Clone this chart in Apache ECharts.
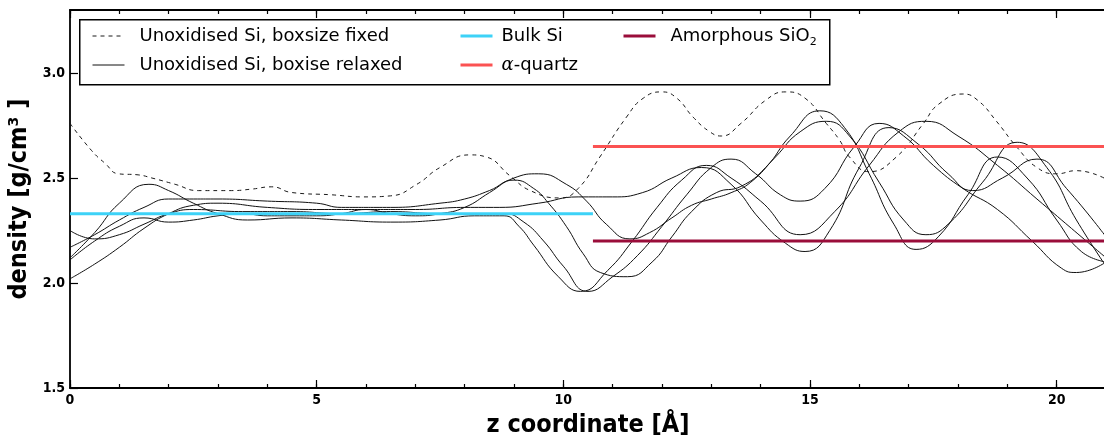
<!DOCTYPE html>
<html>
<head>
<meta charset="utf-8">
<script src="https://cdn.jsdelivr.net/npm/echarts@6/dist/echarts.min.js"></script>
<style>
html, body { margin: 0; padding: 0; background: #fff; }
#chart { width: 1104px; height: 436px; }
</style>
</head>
<body>
<div id="chart"></div>
<script>
// density profiles, z in Angstrom, rho in g/cm^3

// boxsize fixed (dashed)
var fixedZ = [0, 0.44, 0.71, 0.98, 1.38, 1.66, 2.13, 2.6, 3.27, 3.68, 4.09, 4.49, 5.3, 5.95, 6.5, 7.03, 7.5, 8.1, 8.44, 8.92, 9.33, 9.93, 10.3, 10.74, 11.28, 11.62, 12.0, 12.3, 12.63, 12.97, 13.2, 13.6, 14.1, 14.5, 14.9, 15.33, 15.6, 15.8, 16.2, 16.75, 17.3, 17.6, 18.1, 18.4, 18.78, 19.2, 19.6, 20.0, 20.4, 21];
var fixedRho = [2.76, 2.63, 2.57, 2.52, 2.515, 2.50, 2.47, 2.44, 2.44, 2.447, 2.458, 2.431, 2.42, 2.41, 2.415, 2.47, 2.55, 2.61, 2.60, 2.51, 2.44, 2.405, 2.45, 2.60, 2.79, 2.88, 2.91, 2.88, 2.79, 2.72, 2.70, 2.76, 2.87, 2.91, 2.88, 2.76, 2.68, 2.60, 2.53, 2.60, 2.76, 2.85, 2.90, 2.87, 2.77, 2.645, 2.55, 2.52, 2.535, 2.495];

// boxsize relaxed, five runs
var run1Z = [0, 0.5, 1, 1.5, 2, 2.5, 3, 4, 5, 6, 7, 8, 8.7, 9.5, 10.3, 11, 11.6, 12.2, 12.8, 13.4, 14.0, 14.5, 14.9, 15.4, 16.0, 16.6, 17.2, 17.8, 18.3, 18.9, 19.6, 20.2, 21];
var run1Rho = [2.02, 2.09, 2.17, 2.26, 2.33, 2.37, 2.38, 2.36, 2.35, 2.35, 2.35, 2.36, 2.36, 2.38, 2.41, 2.41, 2.43, 2.50, 2.55, 2.47, 2.30, 2.19, 2.15, 2.25, 2.55, 2.74, 2.66, 2.52, 2.44, 2.50, 2.59, 2.45, 2.22];

var run2Z = [0, 0.5, 1, 1.6, 2, 2.5, 3, 3.6, 4.5, 5.5, 6.5, 7.5, 8.2, 8.8, 9.1, 9.4, 9.9, 10.35, 10.9, 11.4, 11.9, 12.4, 12.9, 13.4, 14.0, 14.8, 15.5, 16.2, 16.8, 17.35, 18.0, 18.8, 19.6, 20.3, 21];
var run2Rho = [2.12, 2.24, 2.38, 2.47, 2.44, 2.38, 2.33, 2.30, 2.31, 2.30, 2.29, 2.30, 2.32, 2.32, 2.27, 2.18, 2.03, 1.96, 2.06, 2.20, 2.36, 2.49, 2.56, 2.50, 2.39, 2.23, 2.34, 2.56, 2.72, 2.77, 2.70, 2.56, 2.40, 2.26, 2.12];

var run3Z = [0, 0.5, 1, 1.5, 2, 2.5, 3.5, 4.5, 5.5, 6.5, 7.5, 8.2, 8.8, 9.2, 9.6, 10.0, 10.5, 11.0, 11.5, 12.0, 12.5, 13.0, 13.4, 13.9, 14.4, 14.8, 15.3, 15.9, 16.4, 16.9, 17.5, 18.1, 18.8, 19.5, 20.1, 20.4, 21];
var run3Rho = [2.25, 2.21, 2.23, 2.28, 2.33, 2.35, 2.34, 2.34, 2.33, 2.34, 2.33, 2.33, 2.33, 2.29, 2.20, 2.08, 1.96, 2.03, 2.13, 2.27, 2.42, 2.55, 2.59, 2.52, 2.42, 2.39, 2.45, 2.65, 2.76, 2.70, 2.56, 2.45, 2.35, 2.20, 2.07, 2.05, 2.10];

var run4Z = [0, 0.5, 1, 1.5, 2, 2.5, 3, 4, 5, 5.5, 6.5, 7.5, 8, 8.5, 9.0, 9.4, 9.7, 10.06, 10.4, 10.75, 11.3, 11.8, 12.2, 12.6, 13.1, 13.6, 14.1, 14.6, 15.2, 15.7, 16.2, 16.7, 17.15, 17.6, 18.2, 18.8, 19.4, 20.0, 20.5, 21];
var run4Rho = [2.17, 2.23, 2.30, 2.36, 2.40, 2.40, 2.40, 2.39, 2.38, 2.36, 2.36, 2.38, 2.40, 2.44, 2.49, 2.45, 2.38, 2.27, 2.14, 2.05, 2.03, 2.10, 2.22, 2.34, 2.43, 2.46, 2.55, 2.70, 2.82, 2.74, 2.52, 2.28, 2.16, 2.22, 2.42, 2.60, 2.50, 2.30, 2.15, 2.10];

var run5Z = [0, 0.5, 1, 1.5, 2, 2.5, 3, 3.5, 4, 4.5, 5, 5.5, 6, 6.5, 7, 7.5, 8, 8.5, 9.0, 9.5, 10.06, 10.47, 10.87, 11.35, 11.75, 12.2, 12.6, 13.0, 13.4, 13.8, 14.3, 14.8, 15.33, 15.8, 16.4, 16.9, 17.35, 17.8, 18.5, 19.2, 19.8, 20.4, 21];
var run5Rho = [2.11, 2.20, 2.27, 2.31, 2.29, 2.30, 2.32, 2.33, 2.32, 2.32, 2.32, 2.33, 2.35, 2.33, 2.32, 2.33, 2.36, 2.43, 2.50, 2.52, 2.47, 2.39, 2.28, 2.21, 2.24, 2.31, 2.37, 2.40, 2.43, 2.48, 2.60, 2.72, 2.77, 2.70, 2.48, 2.30, 2.23, 2.28, 2.48, 2.67, 2.55, 2.30, 2.08];

// reference densities
var bulkSiRho = 2.33;
var quartzRho = 2.65;
var amorphRho = 2.20;
var bulkSiRange = [0, 10.6];
var oxideRange = [10.6, 21];

var xTicks = [0, 21, 5];      // min, max, step
var yTicks = [1.5, 3.3, 0.5];

var RELAXED = 'Unoxidised Si, boxise relaxed';
var FIXED = 'Unoxidised Si, boxsize fixed';
var FONT = '"DejaVu Sans Condensed", "DejaVu Sans", sans-serif';

function pairs(z, rho) {
  return z.map(function (v, i) { return [v, rho[i]]; });
}
function flat(range, rho) {
  return range.map(function (v) { return [v, rho]; });
}

var relaxedRuns = [[run1Z, run1Rho], [run2Z, run2Rho], [run3Z, run3Rho], [run4Z, run4Rho], [run5Z, run5Rho]];

var series = [{
  name: FIXED,
  type: 'line',
  smooth: 0.5,
  symbol: 'none',
  lineStyle: { color: '#1a1a1a', width: 1, type: [4, 4] },
  itemStyle: { color: '#1a1a1a' },
  data: pairs(fixedZ, fixedRho)
}];
relaxedRuns.forEach(function (r) {
  series.push({
    name: RELAXED,
    type: 'line',
    smooth: 0.5,
    symbol: 'none',
    lineStyle: { color: '#111', width: 1 },
    itemStyle: { color: '#111' },
    data: pairs(r[0], r[1])
  });
});
series.push({
  name: 'Bulk Si', type: 'line', symbol: 'none', z: 3,
  lineStyle: { color: '#3dd2f7', width: 3 }, itemStyle: { color: '#3dd2f7' },
  data: flat(bulkSiRange, bulkSiRho)
});
series.push({
  name: 'α-quartz', type: 'line', symbol: 'none', z: 3,
  lineStyle: { color: '#fb5252', width: 3 }, itemStyle: { color: '#fb5252' },
  data: flat(oxideRange, quartzRho)
});
series.push({
  name: 'Amorphous SiO2', type: 'line', symbol: 'none', z: 3,
  lineStyle: { color: '#9a0d3a', width: 3 }, itemStyle: { color: '#9a0d3a' },
  data: flat(oxideRange, amorphRho)
});

function legendText(gap) {
  return {
    color: '#000',
    fontSize: 18,
    fontFamily: '"DejaVu Sans", sans-serif',
    padding: [0, 0, 0, gap],
    rich: {
      a: { fontFamily: '"DejaVu Serif", serif', fontStyle: 'italic', fontSize: 18, color: '#000' },
      sub: { fontSize: 11, color: '#000', padding: [12, 0, 0, 0] }
    }
  };
}
function legendFmt(name) {
  if (name === 'α-quartz') return '{a|α}-quartz';
  if (name === 'Amorphous SiO2') return 'Amorphous SiO{sub|2}';
  return name;
}
function legendAt(left, gap, width, names) {
  return {
    left: left, top: 27, orient: 'vertical', padding: 0, itemGap: 11,
    itemWidth: 32, itemHeight: 12, z: 20,
    itemStyle: { opacity: 0 },
    lineStyle: { width: width },
    textStyle: legendText(gap), formatter: legendFmt, data: names
  };
}

function xAxisAt(pos, step, len, withLabels) {
  return {
    type: 'value', position: pos, min: xTicks[0], max: xTicks[1], interval: step,
    axisLine: { show: len > 5, lineStyle: { color: '#000', width: 1.8 } },
    axisTick: { inside: true, length: len, lineStyle: { color: '#000', width: 1.2 } },
    axisLabel: {
      show: withLabels, showMaxLabel: false, color: '#000', fontWeight: 'bold',
      fontSize: 14, fontFamily: FONT, margin: 5
    },
    splitLine: { show: false },
    name: withLabels ? 'z coordinate [Å]' : '',
    nameLocation: 'middle', nameGap: 25,
    nameTextStyle: { color: '#000', fontWeight: 'bold', fontSize: 25, fontFamily: FONT }
  };
}

var chart = echarts.init(document.getElementById('chart'));
chart.setOption({
  animation: false,
  backgroundColor: '#fff',
  grid: { left: 70, top: 10, right: -2, bottom: 48, outerBoundsMode: 'none' },
  graphic: [{
    type: 'rect', left: 79, top: 19, z: 10,
    shape: { width: 750, height: 65 },
    style: { fill: '#fff', stroke: '#000', lineWidth: 1.5 }
  }],
  legend: [
    legendAt(92, 10, 1, [FIXED, RELAXED]),
    legendAt(459, 4, 3, ['Bulk Si', 'α-quartz']),
    legendAt(622, 10, 3, ['Amorphous SiO2'])
  ],
  xAxis: [
    xAxisAt('bottom', xTicks[2], 8, true),
    xAxisAt('bottom', 1, 4, false),
    xAxisAt('top', xTicks[2], 8, false),
    xAxisAt('top', 1, 4, false)
  ],
  yAxis: {
    type: 'value', min: yTicks[0], max: yTicks[1], interval: yTicks[2],
    axisLine: { lineStyle: { color: '#000', width: 1.8 } },
    axisTick: { inside: true, length: 8, lineStyle: { color: '#000', width: 1.2 } },
    axisLabel: {
      showMaxLabel: false, color: '#000', fontWeight: 'bold', fontSize: 14,
      fontFamily: FONT, margin: 5,
      formatter: function (v) { return v.toFixed(1); }
    },
    splitLine: { show: false },
    name: 'density [g/cm³ ]', nameLocation: 'middle', nameRotate: 90, nameGap: 36,
    nameTextStyle: { color: '#000', fontWeight: 'bold', fontSize: 25, fontFamily: FONT }
  },
  series: series
});
</script>
</body>
</html>
